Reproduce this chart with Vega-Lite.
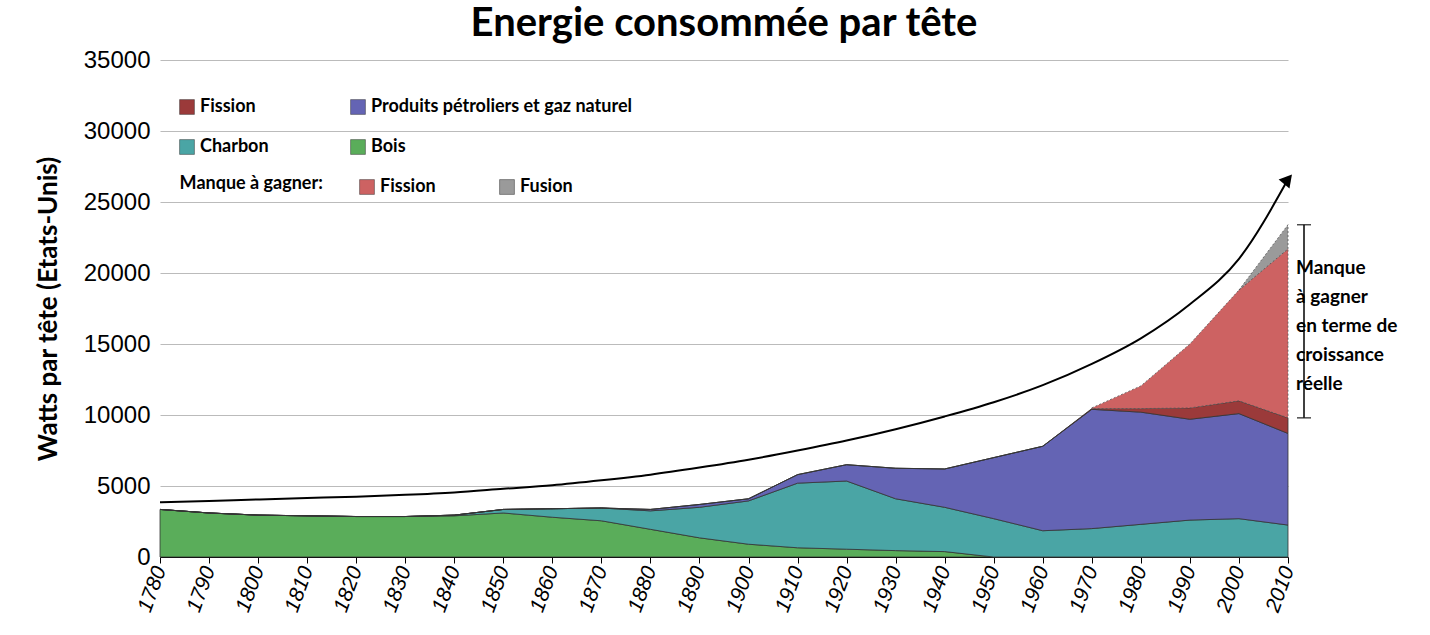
{
"$schema":"https://vega.github.io/schema/vega-lite/v6.json",
"width":1128,"height":497,
"autosize":{"type":"none"},
"padding":{"left":160,"top":60,"right":142,"bottom":78},
"title":{"text":"Energie consommée par tête","font":"Lato","fontSize":40,"fontWeight":"bold","color":"#000","offset":4,"anchor":"middle"},
"config":{"view":{"stroke":null},"font":"Lato"},
"datasets":{
"areas":[
{"year":1780,"src":"Bois","v":3350},{"year":1790,"src":"Bois","v":3100},{"year":1800,"src":"Bois","v":2950},{"year":1810,"src":"Bois","v":2900},{"year":1820,"src":"Bois","v":2850},{"year":1830,"src":"Bois","v":2850},{"year":1840,"src":"Bois","v":2900},{"year":1850,"src":"Bois","v":3100},{"year":1860,"src":"Bois","v":2800},{"year":1870,"src":"Bois","v":2550},{"year":1880,"src":"Bois","v":1950},{"year":1890,"src":"Bois","v":1350},{"year":1900,"src":"Bois","v":900},{"year":1910,"src":"Bois","v":650},{"year":1920,"src":"Bois","v":550},{"year":1930,"src":"Bois","v":450},{"year":1940,"src":"Bois","v":380},{"year":1950,"src":"Bois","v":0},{"year":1960,"src":"Bois","v":0},{"year":1970,"src":"Bois","v":0},{"year":1980,"src":"Bois","v":0},{"year":1990,"src":"Bois","v":0},{"year":2000,"src":"Bois","v":0},{"year":2010,"src":"Bois","v":0},
{"year":1780,"src":"Charbon","v":0},{"year":1790,"src":"Charbon","v":0},{"year":1800,"src":"Charbon","v":0},{"year":1810,"src":"Charbon","v":0},{"year":1820,"src":"Charbon","v":0},{"year":1830,"src":"Charbon","v":0},{"year":1840,"src":"Charbon","v":50},{"year":1850,"src":"Charbon","v":250},{"year":1860,"src":"Charbon","v":600},{"year":1870,"src":"Charbon","v":900},{"year":1880,"src":"Charbon","v":1300},{"year":1890,"src":"Charbon","v":2150},{"year":1900,"src":"Charbon","v":3050},{"year":1910,"src":"Charbon","v":4550},{"year":1920,"src":"Charbon","v":4800},{"year":1930,"src":"Charbon","v":3650},{"year":1940,"src":"Charbon","v":3120},{"year":1950,"src":"Charbon","v":2700},{"year":1960,"src":"Charbon","v":1850},{"year":1970,"src":"Charbon","v":2000},{"year":1980,"src":"Charbon","v":2300},{"year":1990,"src":"Charbon","v":2600},{"year":2000,"src":"Charbon","v":2700},{"year":2010,"src":"Charbon","v":2250},
{"year":1780,"src":"Produits pétroliers et gaz naturel","v":0},{"year":1790,"src":"Produits pétroliers et gaz naturel","v":0},{"year":1800,"src":"Produits pétroliers et gaz naturel","v":0},{"year":1810,"src":"Produits pétroliers et gaz naturel","v":0},{"year":1820,"src":"Produits pétroliers et gaz naturel","v":0},{"year":1830,"src":"Produits pétroliers et gaz naturel","v":0},{"year":1840,"src":"Produits pétroliers et gaz naturel","v":0},{"year":1850,"src":"Produits pétroliers et gaz naturel","v":0},{"year":1860,"src":"Produits pétroliers et gaz naturel","v":0},{"year":1870,"src":"Produits pétroliers et gaz naturel","v":0},{"year":1880,"src":"Produits pétroliers et gaz naturel","v":100},{"year":1890,"src":"Produits pétroliers et gaz naturel","v":200},{"year":1900,"src":"Produits pétroliers et gaz naturel","v":150},{"year":1910,"src":"Produits pétroliers et gaz naturel","v":600},{"year":1920,"src":"Produits pétroliers et gaz naturel","v":1150},{"year":1930,"src":"Produits pétroliers et gaz naturel","v":2150},{"year":1940,"src":"Produits pétroliers et gaz naturel","v":2700},{"year":1950,"src":"Produits pétroliers et gaz naturel","v":4300},{"year":1960,"src":"Produits pétroliers et gaz naturel","v":5950},{"year":1970,"src":"Produits pétroliers et gaz naturel","v":8400},{"year":1980,"src":"Produits pétroliers et gaz naturel","v":7900},{"year":1990,"src":"Produits pétroliers et gaz naturel","v":7100},{"year":2000,"src":"Produits pétroliers et gaz naturel","v":7400},{"year":2010,"src":"Produits pétroliers et gaz naturel","v":6450},
{"year":1780,"src":"Fission","v":0},{"year":1790,"src":"Fission","v":0},{"year":1800,"src":"Fission","v":0},{"year":1810,"src":"Fission","v":0},{"year":1820,"src":"Fission","v":0},{"year":1830,"src":"Fission","v":0},{"year":1840,"src":"Fission","v":0},{"year":1850,"src":"Fission","v":0},{"year":1860,"src":"Fission","v":0},{"year":1870,"src":"Fission","v":0},{"year":1880,"src":"Fission","v":0},{"year":1890,"src":"Fission","v":0},{"year":1900,"src":"Fission","v":0},{"year":1910,"src":"Fission","v":0},{"year":1920,"src":"Fission","v":0},{"year":1930,"src":"Fission","v":0},{"year":1940,"src":"Fission","v":0},{"year":1950,"src":"Fission","v":0},{"year":1960,"src":"Fission","v":0},{"year":1970,"src":"Fission","v":50},{"year":1980,"src":"Fission","v":250},{"year":1990,"src":"Fission","v":800},{"year":2000,"src":"Fission","v":900},{"year":2010,"src":"Fission","v":1100},
{"year":1970,"src":"Fission (manque)","v":50},{"year":1980,"src":"Fission (manque)","v":1600},{"year":1990,"src":"Fission (manque)","v":4500},{"year":2000,"src":"Fission (manque)","v":7800},{"year":2010,"src":"Fission (manque)","v":11900},
{"year":2000,"src":"Fusion","v":0},{"year":2010,"src":"Fusion","v":1700}
],
"curve":[
{"year":1780,"w":3850},{"year":1790,"w":3950},{"year":1800,"w":4050},{"year":1810,"w":4150},{"year":1820,"w":4250},{"year":1830,"w":4380},{"year":1840,"w":4550},{"year":1850,"w":4800},{"year":1860,"w":5050},{"year":1870,"w":5400},{"year":1880,"w":5800},{"year":1890,"w":6300},{"year":1900,"w":6850},{"year":1910,"w":7500},{"year":1920,"w":8200},{"year":1930,"w":9000},{"year":1940,"w":9900},{"year":1950,"w":10900},{"year":1960,"w":12100},{"year":1970,"w":13600},{"year":1980,"w":15400},{"year":1990,"w":17800},{"year":2000,"w":21000},{"year":2010,"w":26600}
]
},
"layer":[
{"data":{"name":"areas"},
 "transform":[{"calculate":"indexof(['Bois','Charbon','Produits pétroliers et gaz naturel','Fission','Fission (manque)','Fusion'],datum.src)","as":"ord"},
  {"filter":"datum.ord < 4"},
  {"stack":"v","groupby":["year"],"sort":[{"field":"ord"}],"as":["y0","y1"]}],
 "mark":{"type":"area","stroke":"#333","strokeWidth":0.8},
 "encoding":{
  "x":{"field":"year","type":"quantitative","scale":{"domain":[1780,2010],"nice":false,"zero":false},
   "axis":{"values":[1780,1790,1800,1810,1820,1830,1840,1850,1860,1870,1880,1890,1900,1910,1920,1930,1940,1950,1960,1970,1980,1990,2000,2010],"format":"d","labelAngle":-70,"labelFontSize":21,"labelFontStyle":"italic","labelFont":"Liberation Sans","labelColor":"#000","title":null,"grid":false,"domainColor":"#000","tickColor":"#000","tickSize":6,"labelPadding":4}},
  "y":{"field":"y1","type":"quantitative","scale":{"domain":[0,35000]},
   "axis":{"values":[0,5000,10000,15000,20000,25000,30000,35000],"format":"d","labelFontSize":24,"labelFont":"Liberation Sans","labelColor":"#000","title":"Watts par tête (Etats-Unis)","titleFontSize":26,"titleFontWeight":"bold","titleColor":"#000","titlePadding":22,"gridColor":"#bbb","domain":false,"ticks":false,"labelPadding":10}},
  "y2":{"field":"y0"},
  "color":{"field":"src","type":"nominal",
   "scale":{"domain":["Fission","Produits pétroliers et gaz naturel","Charbon","Bois"],"range":["#9b3a3a","#6464b4","#4aa5a5","#5aad5a"]},
   "legend":{"orient":"none","legendX":18,"legendY":38,"direction":"horizontal","columns":2,"title":null,"labelLimit":0,"symbolType":"square","symbolSize":220,"symbolStrokeColor":"#333","symbolStrokeWidth":0.5,"labelFontSize":18,"labelFontWeight":"bold","labelColor":"#000","rowPadding":22,"columnPadding":80}}
 }},
{"data":{"name":"areas"},
 "transform":[{"calculate":"indexof(['Bois','Charbon','Produits pétroliers et gaz naturel','Fission','Fission (manque)','Fusion'],datum.src)","as":"ord"},
  {"filter":"datum.year >= 1970"},
  {"stack":"v","groupby":["year"],"sort":[{"field":"ord"}],"as":["y0","y1"]},
  {"filter":"datum.ord >= 4"}],
 "mark":{"type":"area","stroke":"#555","strokeWidth":0.8,"strokeDash":[2,2]},
 "encoding":{
  "x":{"field":"year","type":"quantitative"},
  "y":{"field":"y1","type":"quantitative"},
  "y2":{"field":"y0"},
  "fill":{"field":"src","type":"nominal",
   "scale":{"domain":["Fission (manque)","Fusion"],"range":["#cd6262","#9a9a9a"]},
   "legend":{"orient":"none","legendX":198,"legendY":118,"direction":"horizontal","columns":2,"title":null,"labelExpr":"datum.label=='Fission (manque)'?'Fission':datum.label","symbolType":"square","symbolSize":220,"symbolStrokeColor":"#333","symbolStrokeWidth":0.5,"labelFontSize":18,"labelFontWeight":"bold","labelColor":"#000","columnPadding":62}}
 }},
{"data":{"name":"curve"},"mark":{"type":"line","color":"#000","strokeWidth":2,"interpolate":"monotone"},
 "encoding":{"x":{"field":"year","type":"quantitative"},"y":{"field":"w","type":"quantitative"}}},
{"data":{"values":[{"year":2010,"w":26600}]},"mark":{"type":"point","shape":"triangle-up","angle":40,"filled":true,"color":"#000","size":200,"opacity":1},
 "encoding":{"x":{"field":"year","type":"quantitative"},"y":{"field":"w","type":"quantitative"}}},
{"data":{"values":[{"year":2010,"a":9800,"b":23400}]},"mark":{"type":"rule","color":"#000","strokeWidth":1.5,"xOffset":16},
 "encoding":{"x":{"field":"year","type":"quantitative"},"y":{"field":"a","type":"quantitative"},"y2":{"field":"b"}}},
{"data":{"values":[{"year":2010,"a":9800},{"year":2010,"a":23400}]},"mark":{"type":"tick","orient":"horizontal","color":"#000","thickness":1.5,"size":14,"xOffset":16},
 "encoding":{"x":{"field":"year","type":"quantitative"},"y":{"field":"a","type":"quantitative"}}},
{"data":{"values":[{"year":2010,"w":21000,"t":["Manque","à gagner","en terme de","croissance","réelle"]}]},"mark":{"type":"text","align":"left","baseline":"top","dx":8,"fontSize":19,"fontWeight":"bold","lineHeight":29,"color":"#000"},
 "encoding":{"x":{"field":"year","type":"quantitative"},"y":{"field":"w","type":"quantitative"},"text":{"field":"t"}}},
{"data":{"values":[{"year":1784,"w":26250,"t":"Manque à gagner:"}]},"mark":{"type":"text","align":"left","baseline":"middle","fontSize":18,"fontWeight":"bold","color":"#000"},
 "encoding":{"x":{"field":"year","type":"quantitative"},"y":{"field":"w","type":"quantitative"},"text":{"field":"t"}}}
]
}
